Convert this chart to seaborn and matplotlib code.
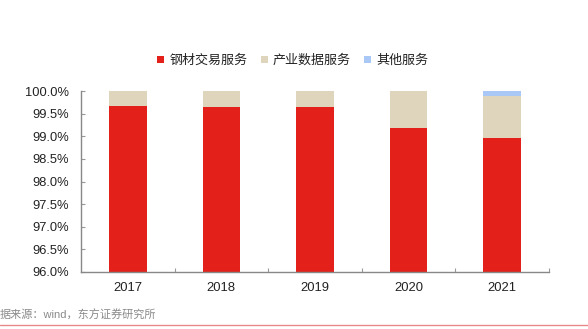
import matplotlib
matplotlib.use("Agg")
import matplotlib.pyplot as plt
import seaborn as sns
import pandas as pd
import numpy as np
from matplotlib.ticker import FuncFormatter, FixedLocator
from matplotlib.patches import Patch

years = ["2017", "2018", "2019", "2020", "2021"]
steel = [99.67, 99.65, 99.65, 99.18, 98.96]
data_srv = [0.33, 0.35, 0.35, 0.82, 0.94]
other = [0.00, 0.00, 0.00, 0.00, 0.10]
series_names = ["钢材交易服务", "产业数据服务", "其他服务"]
colors = ["#E3211A", "#DFD5BD", "#A9C8F5"]

sns.set_theme(style="white")
plt.rcParams['font.family'] = ['Liberation Sans', 'Noto Sans CJK SC', 'DejaVu Sans']

df = pd.DataFrame({"year": years, "steel": steel, "data": data_srv, "other": other})
df["c1"] = df["steel"]
df["c2"] = df["steel"] + df["data"]
df["c3"] = df["c2"] + df["other"]

fig = plt.figure(figsize=(5.88, 3.29), dpi=100)
ax = fig.add_axes([81/588, 57/329, 468/588, 181/329])

for col, c in zip(["c3", "c2", "c1"], colors[::-1]):
    sns.barplot(data=df, x="year", y=col, color=c, width=0.4, ax=ax,
                saturation=1, linewidth=0)

ax.set_ylim(96, 100)
ax.set_xlim(-0.5, 4.5)
ax.yaxis.set_major_locator(FixedLocator(np.arange(96, 100.01, 0.5)))
ax.yaxis.set_major_formatter(FuncFormatter(lambda v, p: f"{v:.1f}%"))
ax.set_xlabel("")
ax.set_ylabel("")
ax.xaxis.set_minor_locator(FixedLocator(np.arange(0.5, 4.6, 1)))
ax.tick_params(axis="x", which="major", length=0, labelsize=9.4, pad=7.5, labelcolor="#222222")
ax.tick_params(axis="x", which="minor", length=3, color="#999999", width=0.8, direction="in", bottom=True)
ax.tick_params(axis="y", which="major", length=3, color="#999999", width=0.8, direction="in",
               labelsize=9.3, labelcolor="#222222", left=True, pad=8.6)
for s in ["top", "right"]:
    ax.spines[s].set_visible(False)
for s in ["left", "bottom"]:
    ax.spines[s].set_color("#888888")
    ax.spines[s].set_linewidth(1.0)

handles = [Patch(facecolor=c, edgecolor="none") for c in colors]
fig.legend(handles, series_names, loc="center", bbox_to_anchor=(0.498, 0.815), ncol=3,
           frameon=False, fontsize=9.4, handlelength=0.55, handleheight=0.55,
           handletextpad=0.4, columnspacing=1.0, labelcolor="#222222")

fig.text(0.0, 329 - 315, "据来源：wind，东方证券研究所", transform=None, fontsize=8,
         color="#8a8a8a", va="center", ha="left")
fig.add_artist(plt.Line2D([0, 1], [4.5/329, 4.5/329], transform=fig.transFigure,
                          color="#E88888", linewidth=1.0))

fig.savefig("out.png", dpi=100)
